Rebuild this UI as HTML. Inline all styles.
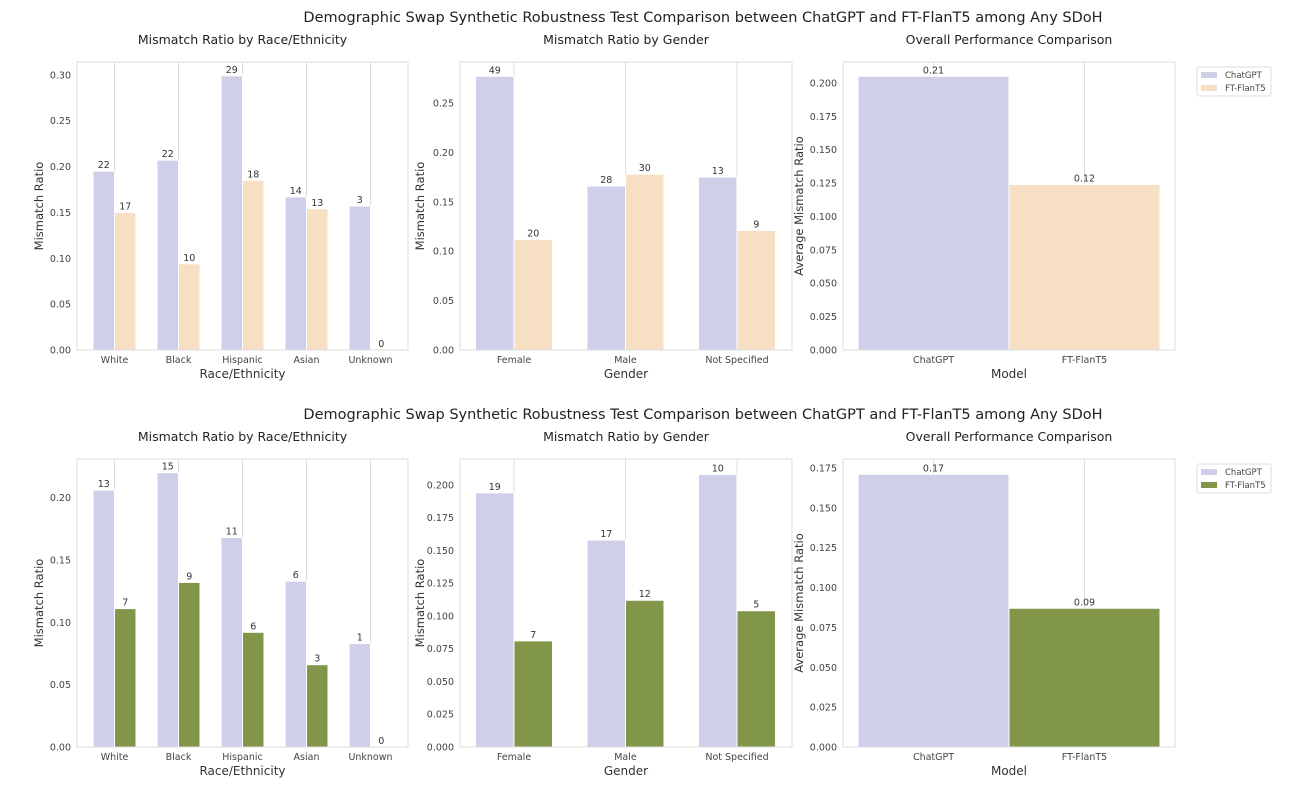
<!DOCTYPE html>
<html><head><meta charset="utf-8"><style>
html,body{margin:0;padding:0;background:#fff;}
svg{display:block;font-family:"DejaVu Sans","Liberation Sans",sans-serif;}
</style></head><body>
<svg id="fig" width="1316" height="802" viewBox="0 0 1316 802" xmlns="http://www.w3.org/2000/svg"></svg>
<script>
// ---- data ----
const raceCats = ["White","Black","Hispanic","Asian","Unknown"];
const genderCats = ["Female","Male","Not Specified"];
const modelCats = ["ChatGPT","FT-FlanT5"];
const seriesNames = ["ChatGPT","FT-FlanT5"];

const topRaceGpt = [0.195,0.207,0.299,0.167,0.157];
const topRaceFlan = [0.150,0.094,0.185,0.154,0.0];
const topRaceGptN = [22,22,29,14,3];
const topRaceFlanN = [17,10,18,13,0];
const topGenGpt = [0.277,0.166,0.175];
const topGenFlan = [0.112,0.178,0.121];
const topGenGptN = [49,28,13];
const topGenFlanN = [20,30,9];
const topOverall = [0.205,0.124];
const topOverallLbl = ["0.21","0.12"];

const botRaceGpt = [0.206,0.220,0.168,0.133,0.083];
const botRaceFlan = [0.111,0.132,0.092,0.066,0.0];
const botRaceGptN = [13,15,11,6,1];
const botRaceFlanN = [7,9,6,3,0];
const botGenGpt = [0.194,0.158,0.208];
const botGenFlan = [0.081,0.112,0.104];
const botGenGptN = [19,17,10];
const botGenFlanN = [7,12,5];
const botOverall = [0.171,0.087];
const botOverallLbl = ["0.17","0.09"];

const ticksRaceTop = ["0.00","0.05","0.10","0.15","0.20","0.25","0.30"];
const ticksGenTop = ["0.00","0.05","0.10","0.15","0.20","0.25"];
const ticksOverTop = ["0.000","0.025","0.050","0.075","0.100","0.125","0.150","0.175","0.200"];
const ticksRaceBot = ["0.00","0.05","0.10","0.15","0.20"];
const ticksGenBot = ["0.000","0.025","0.050","0.075","0.100","0.125","0.150","0.175","0.200"];
const ticksOverBot = ["0.000","0.025","0.050","0.075","0.100","0.125","0.150","0.175"];

const C_GPT="#d0cfea", C_PEACH="#f7dfc3", C_OLIVE="#82964a";
const NS="http://www.w3.org/2000/svg";
const svg=document.getElementById('fig');
function mk(tag,attrs,parent){const e=document.createElementNS(NS,tag);for(const k in attrs)e.setAttribute(k,attrs[k]);(parent||svg).appendChild(e);return e;}
function txt(s,x,y,size,anchor,parent,fill){const t=mk('text',{x:x,y:y,'font-size':size,'text-anchor':anchor||'middle',fill:fill||'#333'},parent);t.textContent=s;return t;}

function panel(o){
  const g=mk('g',{});
  
  
  const L=o.x0,R=o.x1,T=o.top,B=o.bottom;
  const ys=v=>B-(v/o.ymax)*(B-T);
  const xc=i=>o.c0+o.step*i;
  o.cats.forEach((c,i)=>{const l=mk('line',{x1:xc(i),x2:xc(i),y1:T,y2:B,stroke:'#dcdcdc','stroke-width':1},g);
    });
  const n=o.series.length;
  o.series.forEach((vals,s)=>{
    vals.forEach((v,i)=>{
      let x,w;
      if(n===1){w=o.bw;x=xc(i)-w/2;}
      else{w=o.bw;x=xc(i)-o.bw+s*o.bw;}
      const col=n===1?o.colors[i]:o.colors[s];
      const r=mk('rect',{x:x,y:ys(v),width:w,height:B-ys(v),fill:col,stroke:'#fff','stroke-width':1},g);
      
      
      const t=txt(String(o.labels[s][i]),x+w/2,ys(v)-3,9.5,'middle',g,'#333');
      
    });
  });
  const f=mk('rect',{x:L,y:T,width:R-L,height:B-T,fill:'none',stroke:'#dddddd','stroke-width':1},g);
  
  o.yticks.forEach(s=>{const v=parseFloat(s);const t=txt(s,L-6,ys(v)+3.5,9.5,'end',g,'#444');
    });
  o.cats.forEach((c,i)=>{const t=txt(c,xc(i),B+13,9.5,'middle',g,'#444');
    });
  const xt=txt(o.xlabel,(L+R)/2,B+28,12,'middle',g,'#333');
  
  const yx=L-o.ylOff, yy=(T+B)/2;
  const yt=txt(o.ylabel,yx,yy,11.5,'middle',g,'#333');yt.setAttribute('transform','rotate(-90 '+yx+' '+yy+')');
  
  const tt=txt(o.title,(L+R)/2,T-18,12.5,'middle',g,'#222');
  
}

function legend(y,c2){
  const g=mk('g',{});
  
  
  mk('rect',{x:1197,y:y,width:74,height:29,rx:2,fill:'#fff',stroke:'#dddddd'},g);
  [C_GPT,c2].forEach((c,i)=>{
    const r=mk('rect',{x:1201,y:y+5+i*13,width:16,height:6,fill:c},g);
    
    const t=txt(seriesNames[i],1225,y+11+i*13,8.5,'start',g,'#444');
    
  });
}

function row(off,d,c2){
  const st=txt("Demographic Swap Synthetic Robustness Test Comparison between ChatGPT and FT-FlanT5 among Any SDoH",703,22+off,14.5,'middle',svg,'#222');
  
  panel({name:'race-panel',x0:77,x1:408,top:62+off,bottom:350+off,ymax:d.rMax,cats:raceCats,series:[d.rg,d.rf],labels:[d.rgn,d.rfn],colors:[C_GPT,c2],c0:114.5,step:64,bw:21.5,yticks:d.rt,xlabel:'Race/Ethnicity',ylabel:'Mismatch Ratio',ylOff:34,title:'Mismatch Ratio by Race/Ethnicity'});
  panel({name:'gender-panel',x0:460,x1:792,top:62+off,bottom:350+off,ymax:d.gMax,cats:genderCats,series:[d.gg,d.gf],labels:[d.ggn,d.gfn],colors:[C_GPT,c2],c0:514,step:111.5,bw:38.5,yticks:d.gt,xlabel:'Gender',ylabel:'Mismatch Ratio',ylOff:36,title:'Mismatch Ratio by Gender'});
  panel({name:'overall-panel',x0:843,x1:1175,top:62+off,bottom:350+off,ymax:d.oMax,cats:modelCats,series:[d.o],labels:[d.ol],colors:[C_GPT,c2],c0:933.5,step:151,bw:151,yticks:d.ot,xlabel:'Model',ylabel:'Average Mismatch Ratio',ylOff:40,title:'Overall Performance Comparison'});
  legend(67+off,c2);
}
row(0,{rMax:0.314,gMax:0.2915,oMax:0.2157,rg:topRaceGpt,rf:topRaceFlan,rgn:topRaceGptN,rfn:topRaceFlanN,gg:topGenGpt,gf:topGenFlan,ggn:topGenGptN,gfn:topGenFlanN,o:topOverall,ol:topOverallLbl,rt:ticksRaceTop,gt:ticksGenTop,ot:ticksOverTop},C_PEACH);
row(397,{rMax:0.231,gMax:0.2198,oMax:0.1806,rg:botRaceGpt,rf:botRaceFlan,rgn:botRaceGptN,rfn:botRaceFlanN,gg:botGenGpt,gf:botGenFlan,ggn:botGenGptN,gfn:botGenFlanN,o:botOverall,ol:botOverallLbl,rt:ticksRaceBot,gt:ticksGenBot,ot:ticksOverBot},C_OLIVE);
</script>
</body></html>
